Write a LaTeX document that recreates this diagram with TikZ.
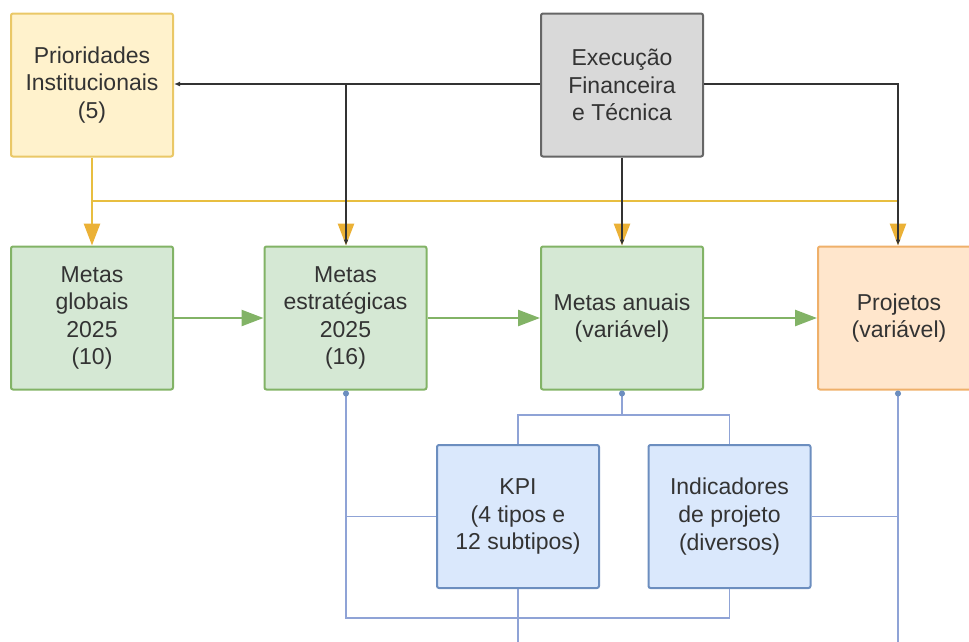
\documentclass[tikz,border=0pt]{standalone}
\usepackage{fontspec}
\setmainfont{Liberation Sans}
\usetikzlibrary{arrows.meta}
\definecolor{txt}{HTML}{333333}
\definecolor{yfill}{HTML}{FFF2CC}
\definecolor{ydraw}{HTML}{EAC867}
\definecolor{yline}{HTML}{E8BE40}
\definecolor{yarrow}{HTML}{EBB136}
\definecolor{gfill}{HTML}{D5E8D4}
\definecolor{gdraw}{HTML}{82B366}
\definecolor{bfill}{HTML}{DAE8FC}
\definecolor{bdraw}{HTML}{6C8EBF}
\definecolor{bline}{HTML}{8FA3D6}
\definecolor{ofill}{HTML}{FFE6CC}
\definecolor{odraw}{HTML}{EFB06A}
\definecolor{kfill}{HTML}{D9D9D9}
\definecolor{kdraw}{HTML}{666666}
\tikzset{
  box/.style={rectangle, rounded corners=2pt, line width=2pt, minimum width=162pt, minimum height=143pt, inner sep=0pt, align=center, text=txt, font=\fontsize{23}{27.6}\selectfont},
  ybox/.style={box, fill=yfill, draw=ydraw},
  gbox/.style={box, fill=gfill, draw=gdraw},
  bbox/.style={box, fill=bfill, draw=bdraw},
  obox/.style={box, fill=ofill, draw=odraw},
  kbox/.style={box, fill=kfill, draw=kdraw},
  yconn/.style={draw=yline, line width=2.8pt},
  yarr/.style={draw=yline, line width=2.8pt, -{Triangle[length=22pt,width=16pt,color=yarrow]}},
  kconn/.style={draw=black!80, line width=1.3pt},
  karr/.style={kconn, -{Latex[length=6pt,width=5pt]}},
  garr/.style={draw=gdraw, line width=2.5pt, -{Triangle[length=22pt,width=16pt]}},
  bconn/.style={draw=bline, line width=1.2pt},
  bdot/.style={bconn, {Circle[length=6pt,color=bdraw]}-},
}
\begin{document}
\begin{tikzpicture}[x=1pt,y=-1pt]
\useasboundingbox (0,0) rectangle (969,641);
\clip (0,0) rectangle (969,641);
% nodes
\node[ybox] (pr) at (92,85) {Prioridades\\Institucionais\\(5)};
\node[kbox] (ex) at (622,85) {Execução\\Financeira\\e Técnica};
\node[gbox] (mg) at (92,318) {Metas\\globais\\2025\\(10)};
\node[gbox] (me) at (345.5,318) {Metas\\estratégicas\\2025\\(16)};
\node[gbox] (ma) at (622,318) {Metas anuais\\(variável)};
\node[obox] (pj) at (899,318) {Projetos\\(variável)};
\node[bbox] (kp) at (518,516.5) {KPI\\(4 tipos e\\12 subtipos)};
\node[bbox] (in) at (729.5,516.5) {Indicadores\\de projeto\\(diversos)};
% coordinates
\coordinate (yl) at (92,201);
\coordinate (yr) at (898,201);
\coordinate (k1) at (346,84);
\coordinate (k2) at (898,84);
\coordinate (b1) at (346,618);
\coordinate (b3) at (622,415);
\coordinate (b4) at (518,660);
\coordinate (b5) at (898,660);
% yellow
\draw[yarr] (pr.south) -- (mg.north);
\draw[yconn] (yl) -- (yr);
\draw[yarr] (346,201) -- (me.north -| 346,0);
\draw[yarr] (622,201) -- (ma.north);
\draw[yarr] (yr) -- (pj.north -| yr);
% black
\draw[karr] (ex.west |- k1) -- (pr.east |- k1);
\draw[karr] (k1) -- (me.north -| k1);
\draw[karr] (ex.south) -- (ma.north);
\draw[karr] (ex.east |- k2) -- (k2) -- (pj.north -| k2);
% green
\draw[garr] (mg.east) -- (me.west);
\draw[garr] (me.east) -- (ma.west);
\draw[garr] (ma.east) -- (pj.west);
% blue
\draw[bdot] (me.south -| b1) -- (b1) -| (in.south);
\draw[bconn] (kp.west -| b1) -- (kp.west);
\draw[bdot] (ma.south) -- (b3) -| (kp.north);
\draw[bconn] (b3) -| (in.north);
\draw[bconn] (kp.south) -- (b4);
\draw[bdot] (pj.south -| b5) -- (b5);
\draw[bconn] (in.east) -- (in.east -| b5);
\end{tikzpicture}
\end{document}
